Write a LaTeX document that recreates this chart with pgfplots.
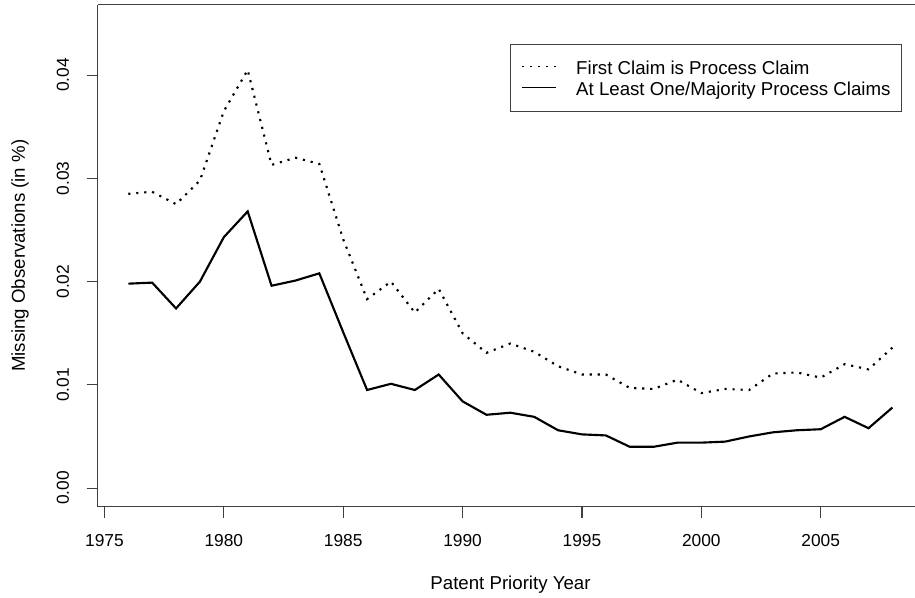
\documentclass[border=0pt]{standalone}
\usepackage{pgfplots}
\pgfplotsset{compat=1.18}
\usepackage{pgfplotstable}
\usepackage{fontspec}
\setmainfont{Liberation Sans}

% first claim is process claim
\pgfplotstableread{
year val
1976 0.0285
1977 0.0287
1978 0.0275
1979 0.0298
1980 0.0365
1981 0.0405
1982 0.0313
1983 0.0320
1984 0.0314
1985 0.0241
1986 0.0183
1987 0.0200
1988 0.0170
1989 0.0193
1990 0.0150
1991 0.0131
1992 0.0140
1993 0.0132
1994 0.0118
1995 0.0110
1996 0.0110
1997 0.0097
1998 0.0096
1999 0.0105
2000 0.0092
2001 0.0096
2002 0.0095
2003 0.0111
2004 0.0112
2005 0.0107
2006 0.0120
2007 0.0115
2008 0.0136
}\firstclaim

% at least one / majority process claims
\pgfplotstableread{
year val
1976 0.0198
1977 0.0199
1978 0.0174
1979 0.0200
1980 0.0243
1981 0.0268
1982 0.0196
1983 0.0201
1984 0.0208
1985 0.0151
1986 0.0095
1987 0.0101
1988 0.0095
1989 0.0110
1990 0.0084
1991 0.0071
1992 0.0073
1993 0.0069
1994 0.0056
1995 0.0052
1996 0.0051
1997 0.0040
1998 0.0040
1999 0.0044
2000 0.0044
2001 0.0045
2002 0.0050
2003 0.0054
2004 0.0056
2005 0.0057
2006 0.0069
2007 0.0058
2008 0.0078
}\majority

\begin{document}
\begin{tikzpicture}
\useasboundingbox (0,0) rectangle (686.25pt,448.5pt);
\begin{axis}[
    at={(73.3pt,68.5pt)}, anchor=south west,
    scale only axis,
    width=613pt, height=376.3pt,
    xmin=1974.72, xmax=2008.95,
    ymin=-0.0018, ymax=0.0468,
    axis x line*=box, axis y line*=left,
    axis line style={black!75, line width=0.8pt},
    xtick={1975,1980,...,2005},
    ytick={0,0.01,0.02,0.03,0.04},
    xtick pos=bottom, ytick pos=left,
    tick align=outside,
    major tick length=8.25pt,
    tick style={black!75, line width=0.8pt},
    scaled y ticks=false,
    xticklabel style={/pgf/number format/1000 sep=, font=\fontsize{13}{15}\selectfont,
        anchor=north, inner sep=0pt, yshift=-12.5pt},
    yticklabel style={/pgf/number format/.cd, fixed, fixed zerofill, precision=2,
        /tikz/.cd, rotate=90, anchor=south, inner sep=0pt, yshift=13pt,
        font=\fontsize{13}{15}\selectfont},
    /pgf/number format/assume math mode=true,
    xlabel={Patent Priority Year},
    ylabel={Missing Observations (in \%)},
    label style={font=\fontsize{14}{16}\selectfont},
    xlabel style={at={(axis description cs:0.505,-0.156)}, anchor=center},
    ylabel style={at={(axis description cs:-0.0951,0.5)}, anchor=center},
    legend cell align=left,
    legend style={
        at={(axis description cs:0.5045,0.9217)}, anchor=north west,
        draw=black!75, line width=0.6pt,
        font=\fontsize{14}{16}\selectfont,
        inner xsep=8.5pt, inner ysep=9pt,
        row sep=0pt, column sep=14.5pt,
        nodes={inner sep=0pt, text height=13.5pt, text depth=2.5pt}
    },
    legend image code/.code={
        \draw[#1, line width=0.8pt] (0pt,0.5pt) -- (25.5pt,0.5pt);
    },
]
\addplot[black, line width=1.6pt, dash pattern=on 1.6pt off 4.4pt] table[x=year, y=val] {\firstclaim};
\addlegendentry{First Claim is Process Claim}
\addplot[black, line width=1.6pt] table[x=year, y=val] {\majority};
\addlegendentry{At Least One/Majority Process Claims}
\end{axis}
\end{tikzpicture}
\end{document}
